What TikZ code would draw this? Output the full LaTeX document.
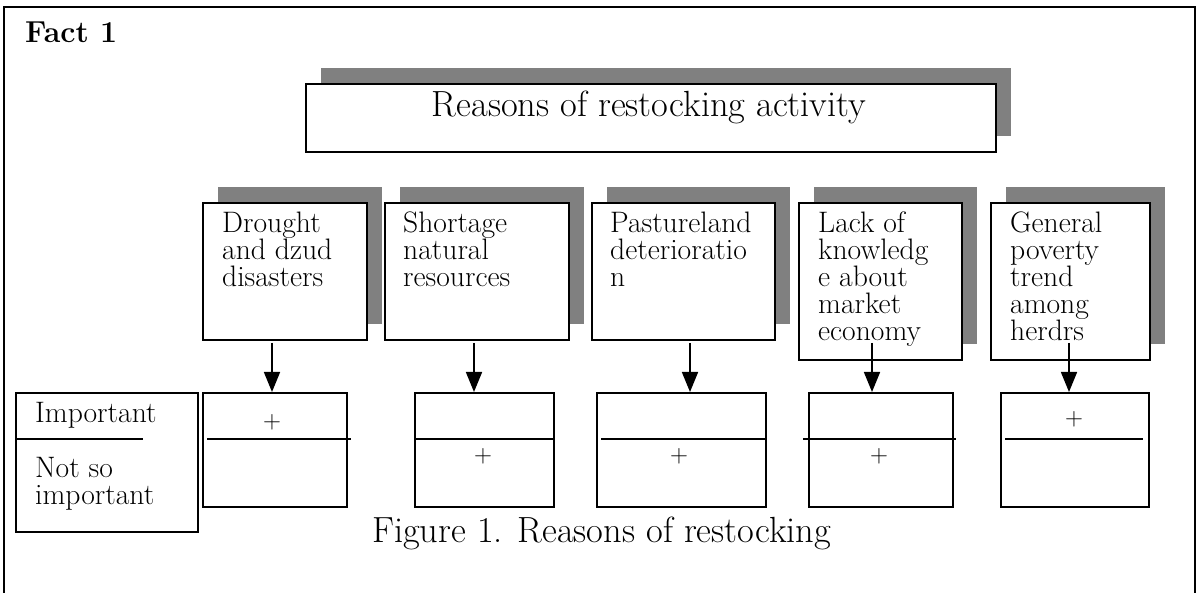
\documentclass[tikz,border=0pt]{standalone}
\usetikzlibrary{arrows.meta,shadows,calc}
\definecolor{shadowgray}{HTML}{808080}
\newcommand\myboxfont{\fontsize{29.6}{27}\selectfont}
\newcommand\mybigfont{\fontsize{36.4}{38}\selectfont}
\begin{document}
\begin{tikzpicture}[x=1pt,y=-1pt,
  ubox/.style={draw, line width=1.8pt, fill=white, anchor=north west, inner sep=0pt,
    general shadow={fill=shadowgray, shadow xshift=15pt, shadow yshift=16pt}},
  lbox/.style={draw, line width=1.8pt, anchor=north west, inner sep=0pt, minimum height=114pt},
  btext/.style={anchor=base west, inner sep=0pt, font=\myboxfont},
  bigtext/.style={inner sep=0pt, font=\mybigfont},
  plus/.style={inner sep=0pt, font=\fontsize{27}{27}\selectfont},
  arr/.style={line width=1.6pt, -{Triangle[width=16pt,length=20pt]}},
  divider/.style={line width=1.8pt},
  frame/.style={line width=1.6pt}]
\useasboundingbox (0,0) rectangle (1197,593);
\fill[white] (0,0) rectangle (1197,593);
% outer frame
\draw[frame] (4,593) -- (4,7) -- (1195,7) -- (1195,593);
% title
\node[anchor=base west, inner sep=0pt, font=\bfseries\fontsize{30.3}{32}\selectfont] (fact) at (25,43) {Fact 1};
% top box
\node[ubox, minimum width=690pt, minimum height=68pt] (top) at (305,83) {};
\node[bigtext, anchor=base] (toptext) at (649,117) {Reasons of restocking activity};
% upper boxes
\node[ubox, minimum width=164pt, minimum height=137pt] (b1) at (202,202) {};
\node[ubox, minimum width=184pt, minimum height=137pt] (b2) at (384,202) {};
\node[ubox, minimum width=183pt, minimum height=137pt] (b3) at (591,202) {};
\node[ubox, minimum width=163pt, minimum height=157pt] (b4) at (798,202) {};
\node[ubox, minimum width=159pt, minimum height=157pt] (b5) at (990,202) {};
\node[btext] (t1) at (222,233) {\parbox[t]{150pt}{\raggedright Drought\\and dzud\\disasters}};
\node[btext] (t2) at (403,233) {\parbox[t]{160pt}{\raggedright Shortage\\natural\\resources}};
\node[btext] (t3) at (610,233) {\parbox[t]{160pt}{\raggedright Pastureland\\deterioratio\\n}};
\node[btext] (t4) at (818,233) {\parbox[t]{140pt}{\raggedright Lack of\\knowledg\\e about\\market\\economy}};
\node[btext] (t5) at (1010,233) {\parbox[t]{140pt}{\raggedright General\\poverty\\trend\\among\\herdrs}};
% legend
\node[lbox, minimum width=182pt, minimum height=139pt] (leg) at (15,392) {};
\draw[divider] (15,439) -- (143,439);
\node[btext] (imp) at (35,423) {Important};
\node[btext] (nimp) at (35,477) {\parbox[t]{150pt}{\raggedright Not so\\important}};
% lower boxes
\node[lbox, minimum width=144pt] (l1) at (202,392) {};
\node[lbox, minimum width=139pt] (l2) at (414,392) {};
\node[lbox, minimum width=169pt] (l3) at (596,392) {};
\node[lbox, minimum width=144pt] (l4) at (808,392) {};
\node[lbox, minimum width=148pt] (l5) at (1000,392) {};
\draw[divider] (207,439) -- (351,439);
\draw[divider] (414,439) -- (553,439);
\draw[divider] (601,439) -- (765,439);
\draw[divider] (803,439) -- (956,439);
\draw[divider] (1005,439) -- (1143,439);
\node[plus] (p1) at (272,422) {$+$};
\node[plus] (p2) at (483,456) {$+$};
\node[plus] (p3) at (679,456) {$+$};
\node[plus] (p4) at (879,456) {$+$};
\node[plus] (p5) at (1074,419) {$+$};
% arrows
\coordinate (s1) at (272,343);
\coordinate (s2) at (474,343);
\coordinate (s3) at (690,343);
\coordinate (s4) at (872,343);
\coordinate (s5) at (1069,343);
\draw[arr] (s1) -- (s1 |- l1.north);
\draw[arr] (s2) -- (s2 |- l2.north);
\draw[arr] (s3) -- (s3 |- l3.north);
\draw[arr] (s4) -- (s4 |- l4.north);
\draw[arr] (s5) -- (s5 |- l5.north);
% caption
\node[bigtext, anchor=base west] (cap) at (372,542) {Figure 1. Reasons of restocking};
\end{tikzpicture}
\end{document}
